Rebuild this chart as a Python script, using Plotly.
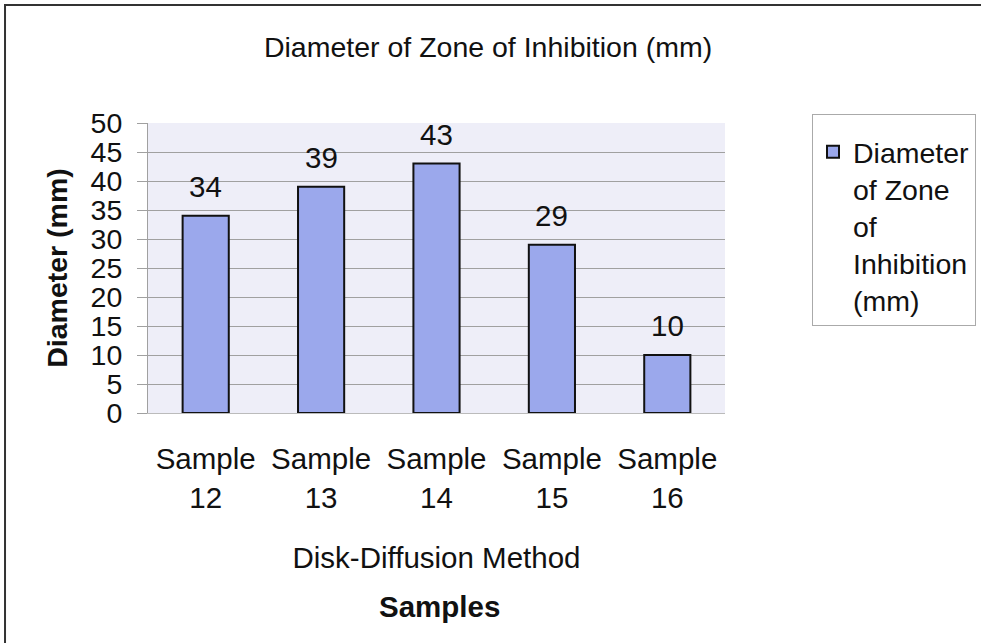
import plotly.graph_objects as go

categories = ["Sample<br>12", "Sample<br>13", "Sample<br>14", "Sample<br>15", "Sample<br>16"]
values = [34, 39, 43, 29, 10]
series_name = "Diameter<br>of Zone<br>of<br>Inhibition<br>(mm)"
y_ticks = [0, 5, 10, 15, 20, 25, 30, 35, 40, 45, 50]

FONT = "Liberation Sans, Arial, sans-serif"
FS = 29.5

fig = go.Figure()
fig.add_trace(go.Bar(
    x=categories, y=values, name=series_name,
    marker=dict(color="#9ba8ec", line=dict(color="#111111", width=2)),
    width=0.40,
    showlegend=True,
))

# value labels above the bars
value_labels = [dict(x=c, y=v, xref="x", yref="y", text=str(v), showarrow=False,
                     yanchor="bottom", yshift=11, font=dict(size=FS, family=FONT, color="#111111"))
                for c, v in zip(categories, values)]

fig.update_layout(
    width=981, height=643,
    margin=dict(l=148, r=256, t=123, b=230, autoexpand=False),
    paper_bgcolor="white", plot_bgcolor="#eeeef8",
    font=dict(family=FONT, size=FS, color="#111111"),
    title=dict(text="Diameter of Zone of Inhibition (mm)", x=0.4975, xanchor="center",
               y=0.927, yanchor="middle", font=dict(size=28.5, family=FONT)),
    xaxis=dict(showgrid=False, showline=True, linecolor="#bbbbbb", linewidth=1,
               ticks="", tickfont=dict(size=FS), ticklabelstandoff=20,
               title=dict(text="Disk-Diffusion Method", font=dict(size=FS), standoff=34)),
    yaxis=dict(range=[0, 50], tickvals=y_ticks, showgrid=True, gridcolor="#a0a0a0", gridwidth=1,
               showline=True, linecolor="#a0a0a0", linewidth=1, ticks="outside", ticklen=10,
               tickcolor="#a0a0a0", tickfont=dict(size=28.5), ticklabelstandoff=9, zeroline=False,
               title=dict(text="<b>Diameter (mm)</b>", font=dict(size=28.5), standoff=14)),
    legend=dict(xref="container", yref="container", x=812 / 981, y=1 - 114 / 643,
                xanchor="left", yanchor="top", valign="top",
                bordercolor="#aaaaaa", borderwidth=1, bgcolor="white",
                title=dict(text=" ", font=dict(size=9)),
                font=dict(size=28.5), itemwidth=30, tracegroupgap=0),
    annotations=value_labels + [
        dict(text="<b>Samples</b>", xref="paper", yref="paper", x=0.505, y=-0.666,
             xanchor="center", yanchor="middle", showarrow=False,
             font=dict(size=FS, family=FONT))],
    shapes=[
        dict(type="line", xref="paper", yref="paper", x0=-0.2478, x1=-0.2478, y0=1.41, y1=-0.8,
             line=dict(color="#333333", width=2)),
        dict(type="line", xref="paper", yref="paper", x0=-0.2495, x1=1.5, y0=1.407, y1=1.407,
             line=dict(color="#333333", width=2)),
    ],
)

fig.write_html("out.html", config={"displayModeBar": False},
               post_script="document.body.style.margin='0';")
